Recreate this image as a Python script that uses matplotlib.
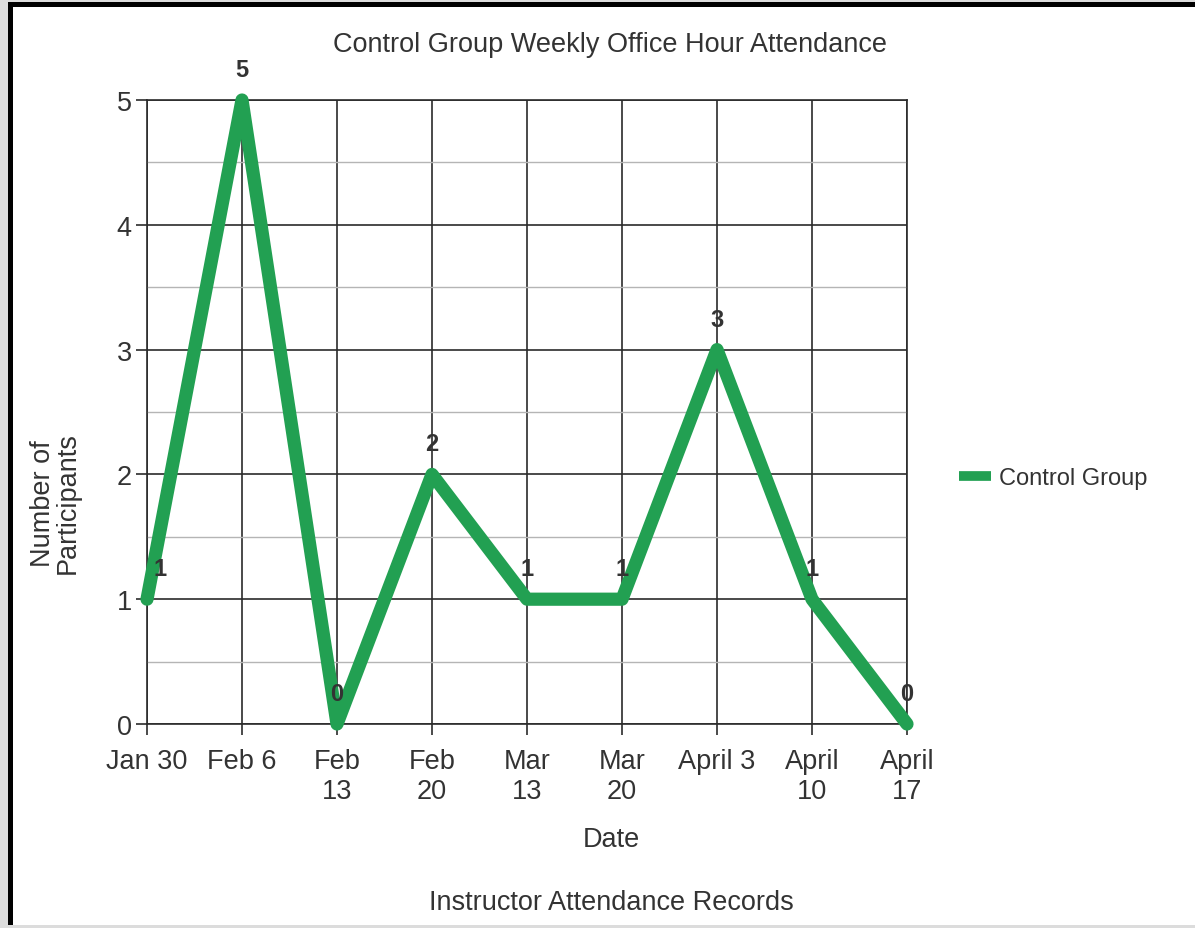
import matplotlib.pyplot as plt
from matplotlib.patches import Rectangle

dates = ['Jan 30', 'Feb 6', 'Feb\n13', 'Feb\n20', 'Mar\n13', 'Mar\n20', 'April 3', 'April\n10', 'April\n17']
participants = [1, 5, 0, 2, 1, 1, 3, 1, 0]

plt.rcParams['font.family'] = ['Liberation Sans', 'DejaVu Sans']
text_color = '#333333'
green = '#22a052'
W, H = 1195, 929

fig = plt.figure(figsize=(W / 100, H / 100), dpi=100)
ax = fig.add_axes([147 / W, 1 - 725 / H, 760 / W, 624 / H])

x = list(range(len(dates)))
ax.plot(x, participants, color=green, linewidth=9.5, solid_capstyle='round',
        solid_joinstyle='round', clip_on=False, zorder=3, label='Control Group')

# value labels above each point
for i, v in enumerate(participants):
    dx = 9.5 if i == 0 else 0
    ax.annotate(str(v), (i, v), xytext=(dx, 22), textcoords='offset points',
                ha='center', va='center', fontsize=17, fontweight='bold',
                color=text_color, zorder=4)

ax.set_xlim(0, len(dates) - 1)
ax.set_ylim(0, 5)
ax.set_xticks(x)
ax.set_xticklabels(dates, linespacing=1.2)
ax.set_yticks(range(6))
ax.set_yticks([0.5, 1.5, 2.5, 3.5, 4.5], minor=True)
ax.grid(which='major', color='#2b2b2b', linewidth=1.2)
ax.grid(which='minor', axis='y', color='#b5b5b5', linewidth=1.0)
ax.tick_params(which='major', length=8, width=1.2, color='#2b2b2b',
               labelsize=19.5, labelcolor=text_color, pad=3)
ax.tick_params(axis='x', pad=9)
ax.tick_params(which='minor', length=0)
for s in ax.spines.values():
    s.set_color('#2b2b2b')
    s.set_linewidth(1.2)

ax.set_ylabel('Number of\nParticipants', fontsize=19.5, color=text_color, linespacing=0.95)
ax.yaxis.set_label_coords(-0.087, 0.355)

fig.text(610 / W, 1 - 45 / H, 'Control Group Weekly Office Hour Attendance',
         ha='center', va='center', fontsize=19.5, color=text_color)
fig.text(611 / W, 1 - 840 / H, 'Date', ha='center', va='center',
         fontsize=19.5, color=text_color)
fig.text(611 / W, 1 - 903 / H, 'Instructor Attendance Records', ha='center',
         va='center', fontsize=19.5, color=text_color)

leg = fig.legend(loc='center left', bbox_to_anchor=(938 / W, 1 - 479 / H),
                 frameon=False, fontsize=17, handlelength=1.35, handletextpad=0.34)
for t in leg.get_texts():
    t.set_color(text_color)
for h in leg.get_lines():
    h.set_linewidth(7)
    h.set_solid_capstyle('butt')

# grey edge and black frame (top and left) around the picture
def band(x0, y0, w, h, color):
    fig.patches.append(Rectangle((x0 / W, 1 - (y0 + h) / H), w / W, h / H,
                                 transform=fig.transFigure, facecolor=color,
                                 edgecolor='none', zorder=10))

band(0, 0, W, 3, '#dcdcdc')
band(0, 0, 8, H, '#dcdcdc')
band(0, H - 3, W, 3, '#dcdcdc')
band(8, 3, W - 8, 5, 'black')
band(8, 3, 5, H - 6, 'black')

fig.savefig('out.png', dpi=100)
